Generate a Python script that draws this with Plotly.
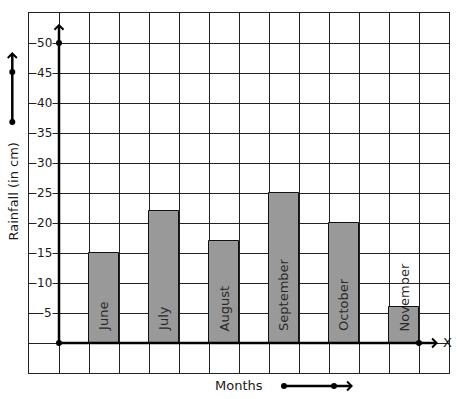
import plotly.graph_objects as go

months = ["June", "July", "August", "September", "October", "November"]
rainfall = [15, 22, 17, 25, 20, 6]
y_ticks = [5, 10, 15, 20, 25, 30, 35, 40, 45, 50]
x_title = "Months"
y_title = "Rainfall (in cm)"

W, H = 457, 399
L, R, T, B = 29, 8, 13, 26
PW, PH = W - L - R, H - T - B

def px_to_paper_x(px):
    return (px - L) / PW

def px_to_paper_y(py):
    return (H - B - py) / PH

positions = list(range(len(months)))
FONT = "DejaVu Sans"
INK = "#1a1a1a"

fig = go.Figure()
fig.add_trace(go.Bar(
    x=positions, y=rainfall, width=0.5,
    marker=dict(color="#999999", line=dict(color="#111111", width=1)),
    hoverinfo="skip", showlegend=False,
))

annotations = []
# bar labels
for p, m in zip(positions, months):
    annotations.append(dict(x=p, y=1.6, xref="x", yref="y", text=m, showarrow=False,
                            textangle=-90, xanchor="center", yanchor="bottom",
                            font=dict(family=FONT, size=13, color="#2a2a2a")))
# y tick labels with white background
for v in y_ticks:
    annotations.append(dict(x=-0.75 - 6 / 60, y=v, xref="x", yref="y", text=str(v),
                            showarrow=False, xanchor="right", yanchor="middle",
                            bgcolor="white", borderpad=0,
                            font=dict(family=FONT, size=12, color=INK)))
# axes with arrows
annotations.append(dict(x=-0.75, y=53.2, xref="x", yref="y", ax=-0.75, ay=0,
                        axref="x", ayref="y", text="", showarrow=True,
                        arrowhead=4, arrowsize=0.7, arrowwidth=2.5, arrowcolor="black"))
annotations.append(dict(x=5.567, y=0, xref="x", yref="y", ax=-0.75, ay=0,
                        axref="x", ayref="y", text="", showarrow=True,
                        arrowhead=4, arrowsize=0.7, arrowwidth=2.5, arrowcolor="black"))
annotations.append(dict(x=px_to_paper_x(447), y=px_to_paper_y(342), xref="paper", yref="paper",
                        text="X", showarrow=False,
                        xanchor="center", yanchor="middle",
                        font=dict(family=FONT, size=13, color=INK)))
annotations.append(dict(x=-0.717, y=55.5, xref="x", yref="y", text="Y", showarrow=False,
                        xanchor="center", yanchor="middle", bgcolor="white", borderpad=0,
                        font=dict(family=FONT, size=13, color=INK)))
# axis titles
annotations.append(dict(x=px_to_paper_x(239), y=px_to_paper_y(385), xref="paper", yref="paper",
                        text=x_title, showarrow=False, xanchor="center", yanchor="middle",
                        font=dict(family=FONT, size=13, color=INK)))
annotations.append(dict(x=px_to_paper_x(12.5), y=px_to_paper_y(192), xref="paper", yref="paper",
                        text=y_title, showarrow=False, textangle=-90,
                        xanchor="center", yanchor="middle",
                        font=dict(family=FONT, size=13, color=INK)))
# decorative arrows
annotations.append(dict(x=px_to_paper_x(12.3), y=px_to_paper_y(52), xref="paper", yref="paper",
                        ax=0, ay=70, text="", showarrow=True,
                        arrowhead=4, arrowsize=0.7, arrowwidth=2.5, arrowcolor="black"))
annotations.append(dict(x=px_to_paper_x(353), y=px_to_paper_y(386), xref="paper", yref="paper",
                        ax=-69, ay=0, text="", showarrow=True,
                        arrowhead=4, arrowsize=0.7, arrowwidth=2.5, arrowcolor="black"))

# dots
dots_paper = [(12.3, 122), (12.3, 72), (284, 386), (334, 386)]
fig.add_trace(go.Scatter(
    x=[-0.75, -0.75, 5.25], y=[0, 50, 0], mode="markers",
    marker=dict(color="black", size=6), cliponaxis=False,
    hoverinfo="skip", showlegend=False,
))
shapes = []
for (dx, dy) in dots_paper:
    shapes.append(dict(type="circle", xref="paper", yref="paper",
                       xsizemode="pixel", ysizemode="pixel",
                       xanchor=px_to_paper_x(dx), yanchor=px_to_paper_y(dy),
                       x0=-3, x1=3, y0=-3, y1=3,
                       fillcolor="black", line=dict(width=0)))

fig.update_layout(
    width=W, height=H,
    margin=dict(l=L, r=R, t=T, b=B),
    plot_bgcolor="white", paper_bgcolor="white",
    annotations=annotations, shapes=shapes,
    xaxis=dict(range=[-1.25, 5.75], tick0=-1.25, dtick=0.5, showgrid=True,
               gridcolor="#222222", gridwidth=1, showticklabels=False, ticks="",
               zeroline=False, showline=True, mirror=True, linecolor="#222222", linewidth=1),
    yaxis=dict(range=[-5, 55], tick0=0, dtick=5, showgrid=True,
               gridcolor="#222222", gridwidth=1, showticklabels=False, ticks="",
               zeroline=False, showline=True, mirror=True, linecolor="#222222", linewidth=1),
    bargap=0,
)

fig.write_html("out.html", config={"displayModeBar": False},
               post_script="document.body.style.margin='0';")
